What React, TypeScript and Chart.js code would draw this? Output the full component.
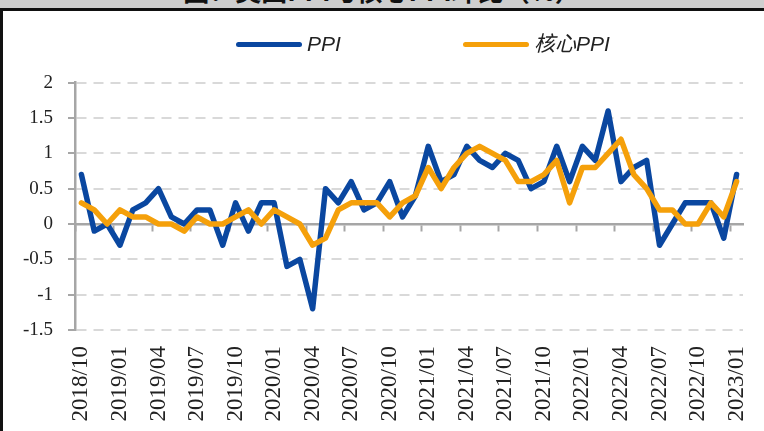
import React, { useEffect, useRef } from "react";
import { Chart, registerables } from "chart.js";

Chart.register(...registerables);

const categories: string[] = [
  "2018/10", "2018/11", "2018/12",
  "2019/01", "2019/02", "2019/03", "2019/04", "2019/05", "2019/06",
  "2019/07", "2019/08", "2019/09", "2019/10", "2019/11", "2019/12",
  "2020/01", "2020/02", "2020/03", "2020/04", "2020/05", "2020/06",
  "2020/07", "2020/08", "2020/09", "2020/10", "2020/11", "2020/12",
  "2021/01", "2021/02", "2021/03", "2021/04", "2021/05", "2021/06",
  "2021/07", "2021/08", "2021/09", "2021/10", "2021/11", "2021/12",
  "2022/01", "2022/02", "2022/03", "2022/04", "2022/05", "2022/06",
  "2022/07", "2022/08", "2022/09", "2022/10", "2022/11", "2022/12",
  "2023/01",
];

const ppiValues: number[] = [
  0.7, -0.1, 0.0,
  -0.3, 0.2, 0.3, 0.5, 0.1, 0.0,
  0.2, 0.2, -0.3, 0.3, -0.1, 0.3,
  0.3, -0.6, -0.5, -1.2, 0.5, 0.3,
  0.6, 0.2, 0.3, 0.6, 0.1, 0.4,
  1.1, 0.6, 0.7, 1.1, 0.9, 0.8,
  1.0, 0.9, 0.5, 0.6, 1.1, 0.6,
  1.1, 0.9, 1.6, 0.6, 0.8, 0.9,
  -0.3, 0.0, 0.3, 0.3, 0.3, -0.2,
  0.7,
];

const corePpiValues: number[] = [
  0.3, 0.2, 0.0,
  0.2, 0.1, 0.1, 0.0, 0.0, -0.1,
  0.1, 0.0, 0.0, 0.1, 0.2, 0.0,
  0.2, 0.1, 0.0, -0.3, -0.2, 0.2,
  0.3, 0.3, 0.3, 0.1, 0.3, 0.4,
  0.8, 0.5, 0.8, 1.0, 1.1, 1.0,
  0.9, 0.6, 0.6, 0.7, 0.9, 0.3,
  0.8, 0.8, 1.0, 1.2, 0.7, 0.5,
  0.2, 0.2, 0.0, 0.0, 0.3, 0.1,
  0.6,
];

const yTickLabels: string[] = ["2", "1.5", "1", "0.5", "0", "-0.5", "-1", "-1.5"];
const seriesNames: string[] = ["PPI", "核心PPI"];
const titleText = "图：美国PPI与核心PPI环比（%）";

const BLUE = "#0a47a0";
const ORANGE = "#f5a00a";
const AXIS_GREY = "#a6a6a6";
const GRID_GREY = "#d9d9d9";
const SERIF = '"Liberation Serif", "Times New Roman", serif';

export default function App() {
  const canvasRef = useRef<HTMLCanvasElement>(null);

  useEffect(() => {
    const canvas = canvasRef.current;
    if (!canvas) return;
    const chart = new Chart(canvas, {
      type: "line",
      data: {
        labels: categories,
        datasets: [
          {
            label: seriesNames[0],
            data: ppiValues,
            borderColor: BLUE,
            backgroundColor: BLUE,
            borderWidth: 5.5,
            pointRadius: 0,
            tension: 0,
            borderJoinStyle: "round",
            borderCapStyle: "round",
            order: 1,
            xAxisID: "x",
          },
          {
            label: seriesNames[1],
            data: corePpiValues,
            borderColor: ORANGE,
            backgroundColor: ORANGE,
            borderWidth: 5.5,
            pointRadius: 0,
            tension: 0,
            borderJoinStyle: "round",
            borderCapStyle: "round",
            order: 0,
            xAxisID: "x",
          },
        ],
      },
      options: {
        animation: false,
        responsive: true,
        maintainAspectRatio: false,
        layout: { padding: { top: 71.7, right: 21, left: 0, bottom: 0 } },
        plugins: {
          legend: { display: false },
          tooltip: { enabled: false },
          title: { display: false },
        },
        scales: {
          x: {
            type: "category",
            position: "bottom",
            offset: true,
            afterFit: (s: any) => {
              s.height = 101;
              s.paddingLeft = 0;
              s.paddingRight = 0;
            },
            grid: { display: false, drawTicks: false },
            border: { display: false },
            ticks: {
              autoSkip: false,
              maxRotation: 90,
              minRotation: 90,
              padding: 16,
              color: "#222",
              font: { family: SERIF, size: 23 },
              callback: function (this: any, v: any, i: number) {
                return i % 3 === 0 ? categories[i] : "";
              },
            },
          },
          x2: {
            type: "category",
            axis: "x",
            position: { y: 0 },
            offset: true,
            afterFit: (s: any) => {
              s.paddingLeft = 0;
              s.paddingRight = 0;
            },
            grid: {
              display: true,
              offset: true,
              drawOnChartArea: false,
              drawTicks: true,
              tickLength: 6,
              tickWidth: 2,
              tickColor: (c: any) => (c.index % 3 === 0 ? AXIS_GREY : "rgba(0,0,0,0)"),
            },
            border: { display: true, color: AXIS_GREY, width: 2.5 },
            ticks: { display: false, autoSkip: false },
          },
          y: {
            type: "linear",
            min: -1.5,
            max: 2,
            afterFit: (s: any) => {
              s.width = 75;
            },
            ticks: {
              stepSize: 0.5,
              padding: 15,
              color: "#222",
              font: { family: SERIF, size: 19 },
              callback: (v: any) => {
                const idx = Math.round((2 - Number(v)) / 0.5);
                return yTickLabels[idx] ?? String(v);
              },
            },
            grid: {
              color: (c: any) =>
                c.tick && Math.abs(c.tick.value) < 1e-9 ? "rgba(0,0,0,0)" : GRID_GREY,
              lineWidth: 2,
              drawTicks: true,
              tickLength: 7,
              tickWidth: 2,
              tickColor: AXIS_GREY,
            },
            border: { display: true, color: AXIS_GREY, width: 2.5, dash: [10, 7] },
          },
        },
      } as any,
    });
    return () => chart.destroy();
  }, []);

  const legendText: React.CSSProperties = {
    position: "absolute",
    top: 31,
    height: 26,
    lineHeight: "26px",
    fontFamily: '"Liberation Sans", Arial, "Noto Sans CJK SC", sans-serif',
    fontStyle: "italic",
    fontSize: 21,
    color: "#222",
    whiteSpace: "nowrap",
  };
  const legendLine: React.CSSProperties = {
    position: "absolute",
    top: 41.5,
    width: 66,
    height: 5,
    borderRadius: 2.5,
  };

  return (
    <div
      style={{
        position: "fixed",
        left: 0,
        top: 0,
        width: 764,
        height: 431,
        background: "#ffffff",
        overflow: "hidden",
      }}
    >
      <div
        style={{
          position: "absolute",
          left: 0,
          top: 0,
          width: 764,
          height: 8,
          background: "#cfcfcf",
          overflow: "hidden",
        }}
      >
        <div
          style={{
            position: "absolute",
            left: 0,
            top: -23,
            width: 764,
            textAlign: "center",
            fontFamily: '"Noto Sans CJK SC", sans-serif',
            fontWeight: 700,
            fontSize: 26,
            lineHeight: "26px",
            color: "#111",
            whiteSpace: "nowrap",
          }}
        >
          {titleText}
        </div>
      </div>
      <div
        style={{ position: "absolute", left: 0, top: 8, width: 764, height: 3, background: "#111" }}
      />
      <div style={{ position: "absolute", left: 0, top: 11, width: 764, height: 420 }}>
        <canvas ref={canvasRef} />
      </div>
      <div
        style={{ position: "absolute", left: 0, top: 8, width: 2.5, height: 423, background: "#111" }}
      />
      <div style={{ ...legendLine, left: 236, background: BLUE }} />
      <div style={{ ...legendText, left: 307 }}>{seriesNames[0]}</div>
      <div style={{ ...legendLine, left: 463, background: ORANGE }} />
      <div style={{ ...legendText, left: 534 }}>{seriesNames[1]}</div>
    </div>
  );
}
